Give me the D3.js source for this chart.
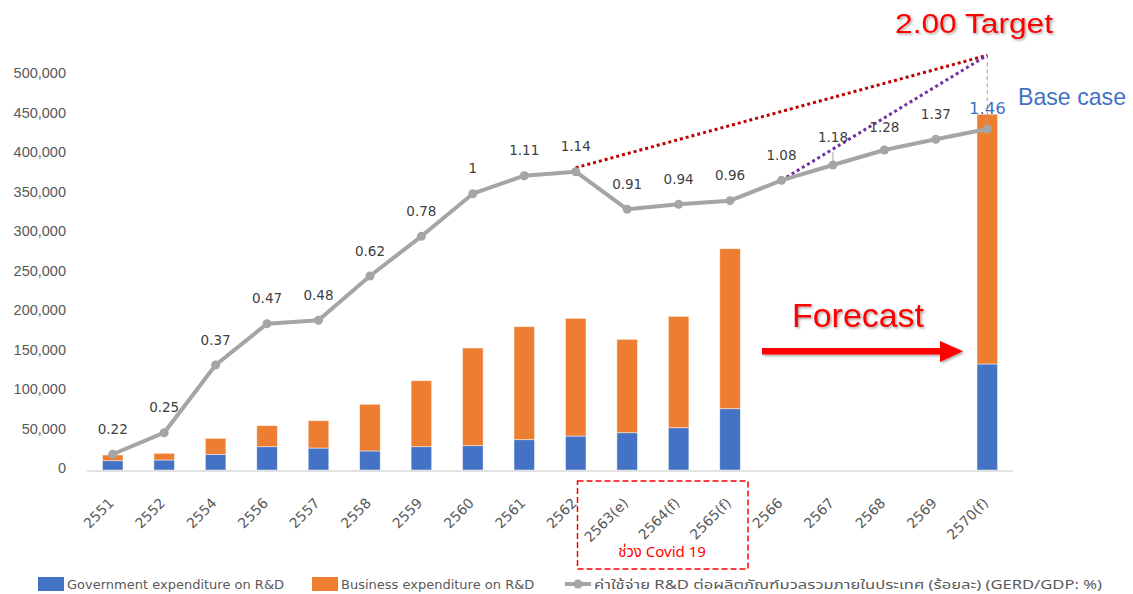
<!doctype html>
<html>
<head>
	<meta charset="utf-8">
	<title>GERD</title>
	<style>
		body { margin: 0; background: #fff; }
		svg { display: block; font-family: "DejaVu Sans", sans-serif; }
		.tick-y { fill: #595959; font-size: 14.5px; }
		.tick-x { fill: #595959; font-size: 14px; }
		.pt-label { fill: #404040; font-size: 13.5px; }
		.legend-text { fill: #595959; font-size: 13px; }
	</style>
</head>
<body>
	<svg width="1133" height="594"></svg>

	<script src="https://d3js.org/d3.v7.min.js"></script>
	<script>

		// categories (Thai B.E. years)
		const years = [ "2551", "2552", "2554", "2556", "2557", "2558", "2559", "2560", "2561", "2562",
			"2563(e)", "2564(f)", "2565(f)", "2566", "2567", "2568", "2569", "2570(f)" ];

		// stacked bars (million baht)
		const govSpend = [ 11800, 12700, 19900, 29500, 27800, 24100, 29500, 30800, 38400, 43000,
			47200, 53500, 77600, null, null, null, null, 134200 ];
		const bizSpend = [ 7200, 8400, 20200, 26600, 34600, 59100, 83500, 123600, 143000, 149000,
			118200, 141000, 202500, null, null, null, null, 316100 ];

		// GERD/GDP line: plotted value on its hidden axis and the printed label
		const gerdPlot = [ 19900, 47200, 132900, 185200, 189500, 245600, 295800, 349700, 372500, 377600,
			330000, 336300, 340900, 366700, 386100, 405100, 418600, 431600 ];
		const gerdLabel = [ "0.22", "0.25", "0.37", "0.47", "0.48", "0.62", "0.78", "1", "1.11", "1.14",
			"0.91", "0.94", "0.96", "1.08", "1.18", "1.28", "1.37", "1.46" ];

		// 2.00 target point on the same hidden axis, and where the two target paths start
		const targetPlot = 525000;
		const targetYear = "2570(f)";
		const targetFrom = [ "2562", "2566" ];

		const yTicks = [ 0, 50000, 100000, 150000, 200000, 250000, 300000, 350000, 400000, 450000, 500000 ];

		const svg = d3.select( "svg" );

		const x = d3.scaleBand()
				.domain( years )
				.range( [ 87, 1013 ] )
				.paddingInner( 0.6 )
				.paddingOuter( 0.3 );

		const y = d3.scaleLinear()
				.domain( [ 0, 500000 ] )
				.range( [ 470, 75 ] );

		// hidden secondary axis for the ratio line
		const y2 = d3.scaleLinear()
				.domain( [ 0, 500000 ] )
				.range( [ 470, 75 ] );

		const cx = ( d ) => x( d ) + x.bandwidth() / 2;

		const shadow = svg.append( "defs" ).append( "filter" )
				.attr( "id", "shadow" )
				.attr( "x", "-10%" ).attr( "y", "-20%" )
				.attr( "width", "130%" ).attr( "height", "150%" );
		shadow.append( "feDropShadow" )
				.attr( "dx", 1.5 ).attr( "dy", 1.5 )
				.attr( "stdDeviation", 1 )
				.attr( "flood-color", "#000" )
				.attr( "flood-opacity", 0.35 );

		// y axis labels
		svg.append( "g" )
			.attr( "transform", "translate(66,-2)" )
			.call( d3.axisLeft( y ).tickValues( yTicks ).tickSize( 0 ).tickPadding( 0 ).tickFormat( d3.format( "," ) ) )
			.call( g => g.select( ".domain" ).remove() )
			.call( g => g.selectAll( "text" ).attr( "class", "tick-y" ).attr( "fill", null ).attr( "font-size", null ).attr( "font-family", null ) );

		// bars
		const stack = d3.stack().keys( [ "gov", "biz" ] )(
			years.map( ( yr, i ) => ( { year: yr, gov: govSpend[ i ] || 0, biz: bizSpend[ i ] || 0 } ) ) );
		const barColors = { gov: "#4472C4", biz: "#ED7D31" };

		svg.append( "g" )
			.selectAll( "g" )
			.data( stack )
			.join( "g" )
				.attr( "fill", d => barColors[ d.key ] )
			.selectAll( "rect" )
			.data( d => d.filter( s => s[ 1 ] > s[ 0 ] ) )
			.join( "rect" )
				.attr( "x", d => x( d.data.year ) )
				.attr( "width", x.bandwidth() )
				.attr( "y", d => y( d[ 1 ] ) )
				.attr( "height", d => y( d[ 0 ] ) - y( d[ 1 ] ) )
				.attr( "stroke", "#fff" )
				.attr( "stroke-opacity", 0.6 )
				.attr( "stroke-width", 0.8 );

		// x axis
		svg.append( "line" )
			.attr( "x1", 87 ).attr( "x2", 1013 )
			.attr( "y1", y( 0 ) + 1 ).attr( "y2", y( 0 ) + 1 )
			.attr( "stroke", "#D9D9D9" ).attr( "stroke-width", 1.5 );

		svg.append( "g" )
			.selectAll( "text" )
			.data( years )
			.join( "text" )
				.attr( "class", "tick-x" )
				.attr( "text-anchor", "end" )
				.attr( "transform", d => "translate(" + ( cx( d ) + 2 ) + "," + ( y( 0 ) + 34 ) + ") rotate(-45)" )
				.text( d => d );

		// target paths
		const tx = cx( targetYear ), ty = y2( targetPlot );
		const fromPt = targetFrom.map( yr => [ cx( yr ), y2( gerdPlot[ years.indexOf( yr ) ] ) ] );

		svg.append( "line" )
			.attr( "x1", tx ).attr( "x2", tx )
			.attr( "y1", ty ).attr( "y2", y2( gerdPlot[ years.length - 1 ] ) )
			.attr( "stroke", "#A0A0A0" ).attr( "stroke-width", 1 )
			.attr( "stroke-dasharray", "4,3" );

		svg.append( "line" )
			.attr( "x1", fromPt[ 0 ][ 0 ] ).attr( "y1", fromPt[ 0 ][ 1 ] - 4 )
			.attr( "x2", tx ).attr( "y2", ty )
			.attr( "stroke", "#C00000" ).attr( "stroke-width", 3 )
			.attr( "stroke-dasharray", "3,3" );

		svg.append( "line" )
			.attr( "x1", fromPt[ 1 ][ 0 ] ).attr( "y1", fromPt[ 1 ][ 1 ] )
			.attr( "x2", tx ).attr( "y2", ty )
			.attr( "stroke", "#7030A0" ).attr( "stroke-width", 3 )
			.attr( "stroke-dasharray", "3,3" );

		// ratio line
		const line = d3.line()
				.x( ( d, i ) => cx( years[ i ] ) )
				.y( d => y2( d ) );

		svg.append( "path" )
			.datum( gerdPlot )
			.attr( "fill", "none" )
			.attr( "stroke", "#A5A5A5" )
			.attr( "stroke-width", 4 )
			.attr( "stroke-linejoin", "round" )
			.attr( "d", line );

		svg.append( "g" )
			.selectAll( "circle" )
			.data( gerdPlot )
			.join( "circle" )
				.attr( "cx", ( d, i ) => cx( years[ i ] ) )
				.attr( "cy", d => y2( d ) )
				.attr( "r", 4.5 )
				.attr( "fill", "#A5A5A5" );

		// leader for 1.18
		const i118 = years.indexOf( "2567" );
		svg.append( "line" )
			.attr( "x1", cx( "2567" ) ).attr( "x2", cx( "2567" ) )
			.attr( "y1", y2( gerdPlot[ i118 ] ) - 13 ).attr( "y2", y2( gerdPlot[ i118 ] ) - 3 )
			.attr( "stroke", "#A5A5A5" ).attr( "stroke-width", 1 );

		const lift = { "2567": 28, "2568": 23, "2570(f)": 21 };

		svg.append( "g" )
			.selectAll( "text" )
			.data( gerdLabel )
			.join( "text" )
				.attr( "class", "pt-label" )
				.attr( "text-anchor", "middle" )
				.attr( "x", ( d, i ) => cx( years[ i ] ) )
				.attr( "y", ( d, i ) => y2( gerdPlot[ i ] ) - ( lift[ years[ i ] ] || 25 ) )
				.attr( "dy", "0.35em" )
				.style( "fill", ( d, i ) => i === years.length - 1 ? "#4472C4" : null )
				.style( "font-size", ( d, i ) => i === years.length - 1 ? "16.5px" : null )
				.text( d => d );

		// annotations
		svg.append( "text" )
			.attr( "x", 895 ).attr( "y", 33 )
			.attr( "font-family", "Liberation Sans, Arial, sans-serif" )
			.attr( "font-size", 27 )
			.attr( "fill", "#FF0000" )
			.attr( "textLength", 158 ).attr( "lengthAdjust", "spacingAndGlyphs" )
			.attr( "filter", "url(#shadow)" )
			.text( "2.00 Target" );

		svg.append( "text" )
			.attr( "x", 1018 ).attr( "y", 105 )
			.attr( "font-family", "Liberation Sans, Arial, sans-serif" )
			.attr( "font-size", 24 )
			.attr( "fill", "#4472C4" )
			.attr( "textLength", 108 ).attr( "lengthAdjust", "spacingAndGlyphs" )
			.text( "Base case" );

		svg.append( "text" )
			.attr( "x", 792 ).attr( "y", 327 )
			.attr( "font-family", "Liberation Sans, Arial, sans-serif" )
			.attr( "font-size", 33.5 )
			.attr( "fill", "#FF0000" )
			.attr( "textLength", 132 ).attr( "lengthAdjust", "spacingAndGlyphs" )
			.attr( "filter", "url(#shadow)" )
			.text( "Forecast" );

		const arrow = svg.append( "g" ).attr( "filter", "url(#shadow)" );
		arrow.append( "rect" )
			.attr( "x", 762 ).attr( "y", 348 )
			.attr( "width", 180 ).attr( "height", 6.5 )
			.attr( "fill", "#FF0000" );
		arrow.append( "path" )
			.attr( "d", "M940,341 L963,351.2 L940,362 Z" )
			.attr( "fill", "#FF0000" );

		// covid box
		svg.append( "rect" )
			.attr( "x", 577.5 ).attr( "y", 481 )
			.attr( "width", 170.5 ).attr( "height", 88 )
			.attr( "fill", "none" )
			.attr( "stroke", "#FF0000" ).attr( "stroke-width", 1.5 )
			.attr( "stroke-dasharray", "6,3" );

		svg.append( "text" )
			.attr( "x", 662 ).attr( "y", 557 )
			.attr( "text-anchor", "middle" )
			.attr( "font-family", "Noto Sans Thai, Tahoma, Noto Sans, sans-serif" )
			.attr( "font-size", 15 )
			.attr( "fill", "#FF0000" )
			.text( "ช่วง Covid 19" );

		// legend
		const legend = svg.append( "g" ).attr( "transform", "translate(0,584)" );
		legend.append( "rect" ).attr( "x", 38 ).attr( "y", -7 ).attr( "width", 26 ).attr( "height", 14 ).attr( "fill", "#4472C4" );
		legend.append( "text" ).attr( "class", "legend-text" ).attr( "x", 67 ).attr( "dy", "0.35em" ).text( "Government expenditure on R&D" );
		legend.append( "rect" ).attr( "x", 312 ).attr( "y", -7 ).attr( "width", 26 ).attr( "height", 14 ).attr( "fill", "#ED7D31" );
		legend.append( "text" ).attr( "class", "legend-text" ).attr( "x", 341 ).attr( "dy", "0.35em" ).text( "Business expenditure on R&D" );
		legend.append( "line" ).attr( "x1", 565 ).attr( "x2", 591 ).attr( "stroke", "#A5A5A5" ).attr( "stroke-width", 4 );
		legend.append( "circle" ).attr( "cx", 578 ).attr( "r", 4.5 ).attr( "fill", "#A5A5A5" );
		legend.append( "text" ).attr( "class", "legend-text" ).attr( "x", 594 ).attr( "dy", "0.35em" )
			.attr( "font-family", "Tahoma, Noto Sans Thai, DejaVu Sans, sans-serif" )
			.attr( "font-size", 13 )
			.attr( "textLength", 508 ).attr( "lengthAdjust", "spacingAndGlyphs" )
			.text( "ค่าใช้จ่าย R&D ต่อผลิตภัณฑ์มวลรวมภายในประเทศ (ร้อยละ) (GERD/GDP: %)" );

	</script>
</body>
</html>
